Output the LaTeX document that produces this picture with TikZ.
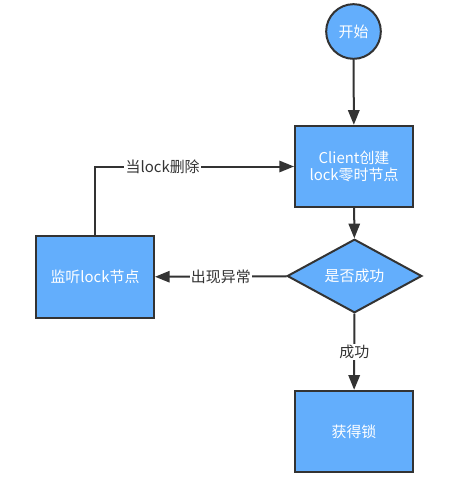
\documentclass[tikz,border=0pt]{standalone}
\usepackage{fontspec}
\setmainfont{Noto Sans CJK SC}
\usetikzlibrary{arrows.meta,shapes.geometric}
\definecolor{boxblue}{RGB}{99,174,252}
\definecolor{edgegray}{RGB}{51,51,51}
\tikzset{
  basefont/.style={font=\fontsize{11.2}{13.2}\selectfont},
  startnode/.style={circle,draw=edgegray,line width=1.5pt,fill=boxblue,text=white,basefont,minimum size=41pt,inner sep=0pt},
  procbox/.style={rectangle,draw=edgegray,line width=1.5pt,fill=boxblue,text=white,basefont,minimum width=88.5pt,minimum height=61pt,align=center,inner sep=0pt},
  decision/.style={diamond,draw=edgegray,line width=1.5pt,fill=boxblue,text=white,basefont,minimum width=101pt,minimum height=48pt,inner sep=0pt},
  flow/.style={draw=edgegray,line width=1.5pt,-{Triangle[length=11pt,width=8.5pt]}},
  edgelabel/.style={fill=white,text=edgegray,basefont,inner sep=1pt}
}
\begin{document}
\begin{tikzpicture}[x=0.75pt,y=0.75pt,yscale=-1,xscale=1]
\useasboundingbox (0,0) rectangle (472,485);
% nodes
\node [startnode] (start) at (353.5,31.5) {开始};
\node [procbox] (client) at (354,166.5) {Client创建\\lock零时节点};
\node [decision] (ok) at (354.5,276) {是否成功};
\node [procbox] (watch) at (95,277) {监听lock节点};
\node [procbox] (lock) at (354,431.5) {获得锁};
% connectors
\draw [flow] (start) -- (client);
\draw [flow] (client) -- (ok);
\draw [flow] (ok) -- node [edgelabel] {成功} (lock);
\draw [flow] (ok) -- node [edgelabel] {出现异常} (watch);
\draw [flow] (watch.north) |- node [edgelabel,pos=0.67] {当lock删除} (client.west);
\end{tikzpicture}
\end{document}
